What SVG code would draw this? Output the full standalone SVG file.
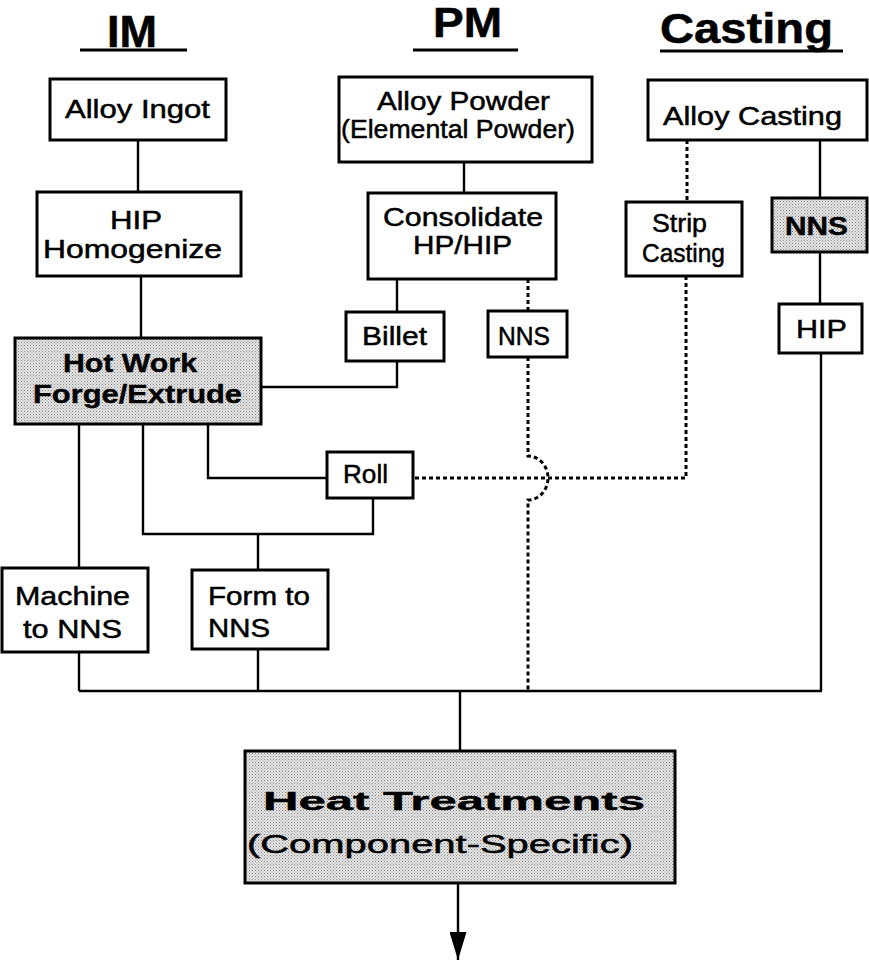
<svg xmlns="http://www.w3.org/2000/svg" width="869" height="966" viewBox="0 0 869 966">
<defs>
<style>
.box{fill:#ffffff;stroke:#000;stroke-width:3}
.shade{fill:url(#stipple);stroke:#000;stroke-width:3}
.t{font-family:"Liberation Sans",Arial,Helvetica,sans-serif;fill:#000;stroke:#000;stroke-width:0.5;text-anchor:middle;font-size:26px}
.b{font-weight:bold;stroke-width:0.4}
.hd{font-family:"Liberation Sans",Arial,Helvetica,sans-serif;font-weight:bold;text-anchor:middle;fill:#000;stroke:#000;stroke-width:0.5}
.ln{fill:none;stroke:#000;stroke-width:2.4}
.dl{fill:none;stroke:#000;stroke-width:3;stroke-dasharray:4 3}
.ul{stroke:#000;stroke-width:3}
</style>
<pattern id="stipple" width="3" height="3" patternUnits="userSpaceOnUse">
<rect width="3" height="3" fill="#e2e2e2"/>
<rect x="0" y="0" width="1" height="1" fill="#8a8a8a"/>
<rect x="1.5" y="1.5" width="1" height="1" fill="#a8a8a8"/>
</pattern>
<marker id="arrow" markerWidth="28" markerHeight="17" refX="28" refY="8.5" orient="auto" markerUnits="userSpaceOnUse" viewBox="0 0 28 17">
<path d="M0,0 L28,8.5 L0,17 Z" fill="#000"/>
</marker>
</defs>

<g id="headers">
<text class="hd" transform="scale(1.2,1)" x="110" y="47" font-size="44" textLength="41.67" lengthAdjust="spacingAndGlyphs">IM</text>
<line class="ul" x1="80" y1="50" x2="187" y2="50"/>
<text class="hd" transform="scale(1.2,1)" x="389.58" y="37" font-size="42" textLength="57.5" lengthAdjust="spacingAndGlyphs">PM</text>
<line class="ul" x1="413" y1="50" x2="518" y2="50"/>
<text class="hd" transform="scale(1.2,1)" x="622.08" y="43" font-size="42" textLength="144.17" lengthAdjust="spacingAndGlyphs">Casting</text>
<line class="ul" x1="660" y1="51" x2="843" y2="51"/>
</g>

<g id="connectors">
<path class="ln" d="M138,140 V192"/>
<path class="ln" d="M141,276 V338"/>
<path class="ln" d="M464,162 V193"/>
<path class="ln" d="M397,279 V312"/>
<path class="ln" d="M397,361 V387 H261"/>
<path class="ln" d="M820,140 V198"/>
<path class="ln" d="M820,252 V304"/>
<path class="ln" d="M79,424 V568"/>
<path class="ln" d="M208,424 V478 H327"/>
<path class="ln" d="M143,424 V534 H373 V498"/>
<path class="ln" d="M258,534 V570"/>
<path class="ln" d="M79,652 V691"/>
<path class="ln" d="M258,649 V691"/>
<path class="ln" d="M821,353 V691" stroke-width="2.8"/>
<path class="ln" d="M79,691 H822" stroke-width="3"/>
<path class="ln" d="M460,691 V751"/>
<path class="ln" d="M458,883 V960" marker-end="url(#arrow)"/>
<path class="dl" d="M528,279 V311"/>
<path class="dl" d="M528,357 V456 A20,22 0 0 1 528,500 V691"/>
<path class="dl" d="M687,140 V202"/>
<path class="dl" d="M686,276 V478 H413"/>
</g>

<g id="n-alloy-ingot">
<rect class="box" x="50" y="79" width="176" height="61"/>
<text class="t" transform="scale(1.2,1)" x="114.58" y="118" textLength="120.83" lengthAdjust="spacingAndGlyphs">Alloy Ingot</text>
</g>
<g id="n-hip-homogenize">
<rect class="box" x="37" y="192" width="204" height="84"/>
<text class="t" transform="scale(1.2,1)" x="113.33" y="229" textLength="43.33" lengthAdjust="spacingAndGlyphs">HIP</text>
<text class="t" transform="scale(1.2,1)" x="110.42" y="258" textLength="149.17" lengthAdjust="spacingAndGlyphs">Homogenize</text>
</g>
<g id="n-alloy-powder">
<rect class="box" x="339" y="77" width="253" height="85"/>
<text class="t" transform="scale(1.2,1)" x="386.25" y="110" textLength="144.17" lengthAdjust="spacingAndGlyphs">Alloy Powder</text>
<text class="t" transform="scale(1.2,1)" x="381.67" y="138" font-size="21" textLength="195" lengthAdjust="spacingAndGlyphs">(Elemental Powder)</text>
</g>
<g id="n-consolidate">
<rect class="box" x="368" y="193" width="188" height="86"/>
<text class="t" transform="scale(1.2,1)" x="385.83" y="226" font-size="25" textLength="133.33" lengthAdjust="spacingAndGlyphs">Consolidate</text>
<text class="t" transform="scale(1.2,1)" x="385.42" y="254" font-size="25" textLength="82.5" lengthAdjust="spacingAndGlyphs">HP/HIP</text>
</g>
<g id="n-alloy-casting">
<rect class="box" x="648" y="80" width="219" height="60"/>
<text class="t" transform="scale(1.2,1)" x="627.08" y="125" textLength="149.17" lengthAdjust="spacingAndGlyphs">Alloy Casting</text>
</g>
<g id="n-strip-casting">
<rect class="box" x="626" y="202" width="116" height="74"/>
<text class="t" transform="scale(1.2,1)" x="566.25" y="232" font-size="23" textLength="45.83" lengthAdjust="spacingAndGlyphs">Strip</text>
<text class="t" transform="scale(1.2,1)" x="569.58" y="262" font-size="23" textLength="69.17" lengthAdjust="spacingAndGlyphs">Casting</text>
</g>
<g id="n-nns-casting">
<rect class="shade" x="772" y="198" width="95" height="54"/>
<text class="t b" transform="scale(1.2,1)" x="680.42" y="235" font-size="28" textLength="52.5" lengthAdjust="spacingAndGlyphs">NNS</text>
</g>
<g id="n-billet">
<rect class="box" x="346" y="312" width="98" height="49"/>
<text class="t" transform="scale(1.2,1)" x="328.75" y="345" textLength="54.17" lengthAdjust="spacingAndGlyphs">Billet</text>
</g>
<g id="n-nns-pm">
<rect class="box" x="488" y="311" width="79" height="46"/>
<text class="t" transform="scale(1.2,1)" x="436.67" y="345" font-size="24" textLength="43.33" lengthAdjust="spacingAndGlyphs">NNS</text>
</g>
<g id="n-hip-casting">
<rect class="box" x="779" y="304" width="83" height="49"/>
<text class="t" transform="scale(1.2,1)" x="684.58" y="338" textLength="42.5" lengthAdjust="spacingAndGlyphs">HIP</text>
</g>
<g id="n-hot-work">
<rect class="shade" x="15" y="338" width="246" height="86"/>
<text class="t b" transform="scale(1.2,1)" x="108.33" y="372" font-size="27" textLength="111.67" lengthAdjust="spacingAndGlyphs">Hot Work</text>
<text class="t b" transform="scale(1.2,1)" x="114.58" y="403" font-size="27" textLength="174.17" lengthAdjust="spacingAndGlyphs">Forge/Extrude</text>
</g>
<g id="n-roll">
<rect class="box" x="327" y="452" width="86" height="46"/>
<text class="t" transform="scale(1.2,1)" x="304.58" y="483" font-size="25" textLength="37.5" lengthAdjust="spacingAndGlyphs">Roll</text>
</g>
<g id="n-machine">
<rect class="box" x="2" y="568" width="146" height="84"/>
<text class="t" transform="scale(1.2,1)" x="60.42" y="605" textLength="95.83" lengthAdjust="spacingAndGlyphs">Machine</text>
<text class="t" transform="scale(1.2,1)" x="60.42" y="638" textLength="82.5" lengthAdjust="spacingAndGlyphs">to NNS</text>
</g>
<g id="n-form">
<rect class="box" x="192" y="570" width="136" height="79"/>
<text class="t" transform="scale(1.2,1)" x="173.33" y="605" style="text-anchor:start" textLength="85" lengthAdjust="spacingAndGlyphs">Form to</text>
<text class="t" transform="scale(1.2,1)" x="173.33" y="637" style="text-anchor:start" textLength="51.67" lengthAdjust="spacingAndGlyphs">NNS</text>
</g>
<g id="n-heat">
<rect class="shade" x="245" y="751" width="430" height="132"/>
<text class="t b" transform="scale(1.2,1)" x="378.33" y="810" font-size="39" textLength="318.33" lengthAdjust="spacingAndGlyphs">Heat Treatments</text>
<text class="t" transform="scale(1.2,1)" x="366.67" y="853" font-size="32" textLength="321.67" lengthAdjust="spacingAndGlyphs">(Component-Specific)</text>
</g>
</svg>
